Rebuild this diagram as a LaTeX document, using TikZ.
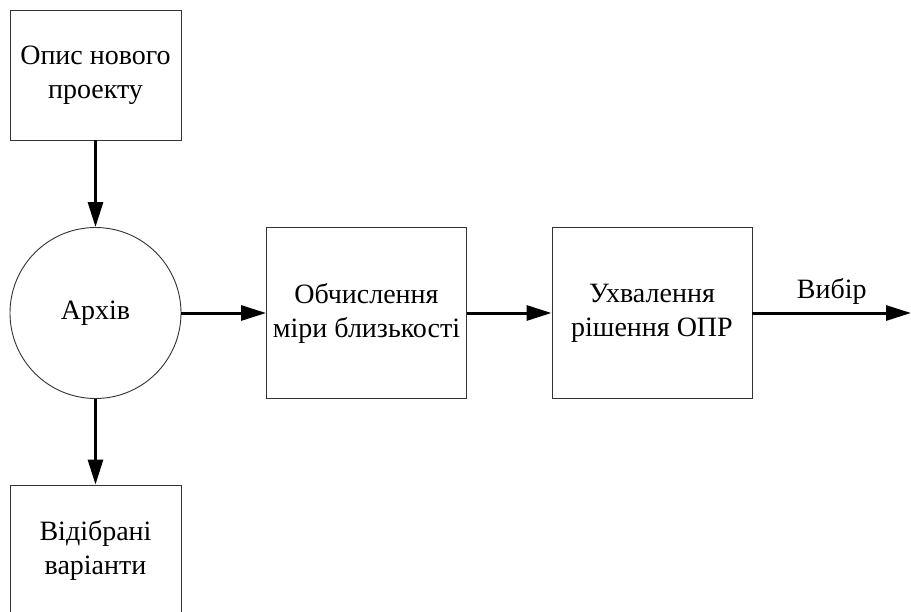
\documentclass[tikz,border=0pt]{standalone}
\usepackage{fontspec}
\setmainfont{Liberation Serif}
\usetikzlibrary{arrows.meta}
\begin{document}
\begin{tikzpicture}[x=1pt,y=-1pt,
  txt/.style={font=\fontsize{28}{34}\selectfont},
  box/.style={draw=black!80,line width=0.9pt,minimum width=171pt,minimum height=130pt,inner sep=0pt,align=center,txt},
  bigbox/.style={box,minimum width=200pt,minimum height=171pt},
  circ/.style={draw=black!80,line width=0.9pt,circle,minimum size=171pt,inner sep=0pt,txt},
  conn/.style={line width=3pt,-{Triangle[length=25pt,width=15pt]}}]
\useasboundingbox (0,0) rectangle (911,611);
\node[box] (opys) at (95.5,75) {Опис нового\\проекту};
\node[circ] (arkhiv) at (95.5,313) {Архів};
\node[box] (vidib) at (95.5,550) {Відібрані\\варіанти};
\node[bigbox] (obch) at (366.5,313) {Обчислення\\міри близькості};
\node[bigbox] (ukhv) at (652,313) {Ухвалення\\рішення ОПР};
\coordinate (end) at (911,313);
\draw[conn] (opys.south) -- (arkhiv.north);
\draw[conn] (arkhiv.south) -- (vidib.north);
\draw[conn] (arkhiv.east) -- (obch.west);
\draw[conn] (obch.east) -- (ukhv.west);
\draw[conn] (ukhv.east) -- node[above=4pt,txt] {Вибір} (end);
\end{tikzpicture}
\end{document}
